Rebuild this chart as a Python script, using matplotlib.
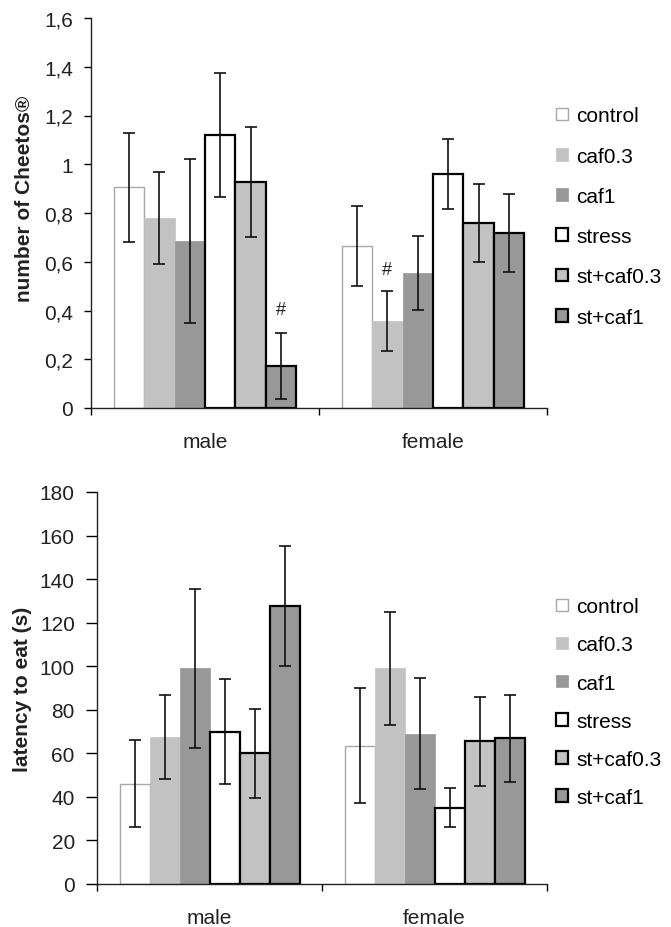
import numpy as np
import matplotlib
matplotlib.use('Agg')
import matplotlib.pyplot as plt
from matplotlib.patches import Patch
from matplotlib.ticker import FuncFormatter

plt.rcParams['font.family'] = ['Liberation Sans', 'DejaVu Sans']

#====================================
# data
groups = ['male', 'female']
treatments = ['control', 'caf0.3', 'caf1', 'stress', 'st+caf0.3', 'st+caf1']

# number of Cheetos (mean, sem) per treatment, [male, female]
cheetos_mean = [[0.905, 0.665], [0.78, 0.357], [0.685, 0.554],
                [1.12, 0.96], [0.927, 0.758], [0.172, 0.718]]
cheetos_err = [[0.222, 0.165], [0.19, 0.122], [0.338, 0.15],
               [0.255, 0.145], [0.225, 0.16], [0.136, 0.162]]

# latency to eat (s)
latency_mean = [[46, 63.5], [67.5, 99], [99, 69],
                [70, 35], [60, 65.5], [127.5, 67]]
latency_err = [[20, 26.5], [19.5, 26], [36.5, 25.5],
               [24, 9], [20.5, 20.5], [27.5, 20]]

# significance marks: (treatment index, group index, y)
cheetos_marks = [(5, 0, 0.37), (1, 1, 0.535)]

#====================================
fills = ['white', '#c2c2c2', '#989898', 'white', '#c2c2c2', '#989898']
edges = ['#a8a8a8', '#c2c2c2', '#989898', 'black', 'black', 'black']
edge_w = [1.0, 0.5, 0.5, 1.6, 1.6, 1.6]

comma = FuncFormatter(lambda v, p: ('%g' % round(v, 2)).replace('.', ','))


def draw_panel(ax, means, errs, ylim, ystep, ylabel, label_xy, ytick_len,
               leg_y, leg_space, marks=()):
    n = len(treatments)
    w = 0.8 / n
    x = np.arange(len(groups))
    for j in range(n):
        pos = x + 0.1 + (j + 0.5) * w
        ax.bar(pos, means[j], width=w, color=fills[j], edgecolor=edges[j],
               linewidth=edge_w[j], zorder=2)
        ax.errorbar(pos, means[j], yerr=errs[j], fmt='none', ecolor='#111111',
                    elinewidth=1.2, capsize=4.2, capthick=1.2, zorder=3)
    for j, g, yv in marks:
        ax.text(g + 0.1 + (j + 0.5) * w, yv, '#', ha='center', va='bottom',
                fontsize=13, color='#222222')
    ax.set_xlim(0, len(groups))
    ax.set_ylim(*ylim)
    ax.set_yticks(np.arange(ylim[0], ylim[1] + ystep / 2, ystep))
    ax.set_xticks(np.arange(len(groups) + 1))
    ax.set_xticklabels([])
    ax.set_xticks(x + 0.5, minor=True)
    ax.set_xticklabels(groups, minor=True, fontsize=15, color='#222222')
    ax.tick_params(axis='x', which='minor', length=0, pad=17.5)
    ax.tick_params(axis='x', which='major', direction='out', length=5, width=1)
    ax.tick_params(axis='y', direction='out', length=ytick_len, width=1,
                   labelsize=15, labelcolor='#222222', pad=8)
    for s in ['top', 'right']:
        ax.spines[s].set_visible(False)
    for s in ['left', 'bottom']:
        ax.spines[s].set_linewidth(1.0)
        ax.spines[s].set_color('#222222')
    ax.set_ylabel(ylabel, fontsize=15, fontweight='bold', color='#222222')
    ax.yaxis.set_label_coords(*label_xy)
    handles = [Patch(facecolor=fills[j],
                     edgecolor=edges[j] if j != 0 else '#a8a8a8',
                     linewidth=edge_w[j]) for j in range(n)]
    ax.legend(handles, treatments, loc='center left', bbox_to_anchor=(1.0, leg_y),
              frameon=False, fontsize=15, handlelength=0.55, handleheight=0.55,
              handletextpad=0.4, labelspacing=leg_space, borderaxespad=0.05)


fig = plt.figure(figsize=(6.71, 9.28), dpi=100)
ax1 = fig.add_axes([91 / 671, 1 - 409 / 928, 456 / 671, 390 / 928])
ax2 = fig.add_axes([97 / 671, 1 - 885 / 928, 450 / 671, 392 / 928])

draw_panel(ax1, cheetos_mean, cheetos_err, (0, 1.6), 0.2,
           'number of Cheetos®', (-0.126, 0.54), 5, 0.491, 1.02, cheetos_marks)
ax1.yaxis.set_major_formatter(comma)
draw_panel(ax2, latency_mean, latency_err, (0, 180), 20,
           'latency to eat (s)', (-0.144, 0.5), 8, 0.464, 0.92)

fig.savefig('out.png', dpi=100)
